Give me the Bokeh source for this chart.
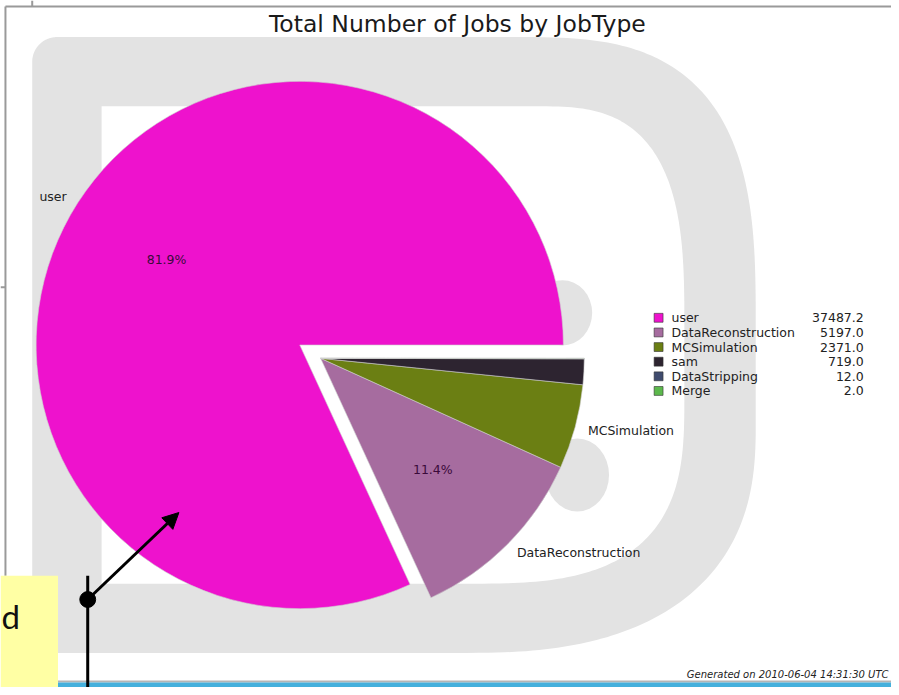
import numpy as np
from bokeh.plotting import figure
from bokeh.models import Range1d, Arrow, NormalHead
from bokeh.core.properties import value
from bokeh.embed import file_html
from bokeh.resources import INLINE

# ---- data ----
job_types = ["user", "DataReconstruction", "MCSimulation", "sam", "DataStripping", "Merge"]
job_counts = [37487.2, 5197.0, 2371.0, 719.0, 12.0, 2.0]
slice_colors = ["#ee12cd", "#a66c9f", "#6b7f13", "#2d2430", "#3f4b6e", "#5cb84c"]
explode_px = [25, 0, 0, 0, 0, 0]
title_text = "Total Number of Jobs by JobType"
footer_text = "Generated on 2010-06-04 14:31:30 UTC"

PAGE_W, PAGE_H = 899, 695


def Y(py):
    return PAGE_H - np.asarray(py, dtype=float)


p = figure(width=891, height=687, x_range=Range1d(0, PAGE_W), y_range=Range1d(0, PAGE_H),
           output_backend="svg", toolbar_location=None, title=None,
           x_axis_location=None, y_axis_location=None, min_border=0,
           background_fill_color="white", border_fill_color="white",
           outline_line_color=None)
p.grid.visible = False

# ---- watermark logo (decorative) ----
def superarc(cx, cy, a, b, n, t0, t1, num=80):
    t = np.linspace(np.radians(t0), np.radians(t1), num)
    c, s = np.cos(t), np.sin(t)
    x = cx + a * np.sign(c) * np.abs(c) ** (2.0 / n)
    y = cy + b * np.sign(s) * np.abs(s) ** (2.0 / n)
    return list(x), list(y)

ox, oy = [], []
for seg in [superarc(520, 330, 242, 293, 3, -90, 0),
            superarc(470, 430, 292, 230, 2.5, 0, 90),
            superarc(57, 635, 25, 25, 2, 90, 180),
            superarc(57, 62, 25, 25, 2, 180, 270)]:
    ox += seg[0]; oy += seg[1]
p.patch(ox, Y(oy), fill_color="#e3e3e3", line_color=None)

ix, iy = [102], [107]
for seg in [superarc(540, 330, 150, 223, 3, -90, 0),
            superarc(470, 400, 220, 190, 3, 0, 90)]:
    ix += seg[0]; iy += seg[1]
ix += [102]; iy += [590]
p.patch(ix, Y(iy), fill_color="white", line_color=None)

p.ellipse(x=[567, 582], y=Y([316, 480]), width=[60, 64], height=[66, 74],
          fill_color="#e3e3e3", line_color=None)

# ---- pie ----
vals = np.array(job_counts)
frac = vals / vals.sum()
ends = 2 * np.pi * np.cumsum(frac)
starts = ends - 2 * np.pi * frac
mid = (starts + ends) / 2
cx0, cy0 = 323.0, float(Y(362))
R = 266.0
ex = np.array(explode_px, dtype=float)
cxs = cx0 + ex * np.cos(mid)
cys = cy0 + ex * np.sin(mid)
p.wedge(x=cxs, y=cys, radius=R, start_angle=starts, end_angle=ends,
        fill_color=slice_colors, line_color="#cfcfcf", line_width=0.6)

font = value("DejaVu Sans")
lx_l, ly_l, lt_l, lx_r, ly_r, lt_r = [], [], [], [], [], []
px_, py_, pt_ = [], [], []
for i, name in enumerate(job_types):
    if frac[i] >= 0.05:
        x = cxs[i] + 1.05 * R * np.cos(mid[i])
        y = cys[i] + 1.05 * R * np.sin(mid[i])
        if np.cos(mid[i]) >= 0:
            lx_l.append(x); ly_l.append(y); lt_l.append(name)
        else:
            lx_r.append(x); ly_r.append(y); lt_r.append(name)
    if frac[i] >= 0.10:
        px_.append(cxs[i] + 0.6 * R * np.cos(mid[i]))
        py_.append(cys[i] + 0.6 * R * np.sin(mid[i]))
        pt_.append(f"{100 * frac[i]:.1f}%")

p.text(x=lx_l, y=ly_l, text=lt_l, text_font=font, text_font_size=value("12.5px"),
       text_align="left", text_baseline="middle", text_color="#222222")
p.text(x=lx_r, y=ly_r, text=lt_r, text_font=font, text_font_size=value("12.5px"),
       text_align="right", text_baseline="middle", text_color="#222222")
p.text(x=px_, y=py_, text=pt_, text_font=font, text_font_size=value("12.5px"),
       text_align="center", text_baseline="middle", text_color="#3a0a3a")

# ---- legend ----
rows_py = 321 + 14.8 * np.arange(len(job_types))
p.rect(x=[664] * len(job_types), y=Y(rows_py), width=9, height=9,
       fill_color=slice_colors, line_color="#333333", line_width=0.6)
p.text(x=[677] * len(job_types), y=Y(rows_py), text=job_types, text_font=font,
       text_font_size=value("12.5px"), text_align="left", text_baseline="middle",
       text_color="#222222")
p.text(x=[871] * len(job_types), y=Y(rows_py), text=[f"{v:.1f}" for v in job_counts],
       text_font=font, text_font_size=value("12.5px"), text_align="right",
       text_baseline="middle", text_color="#222222")

# ---- title / footer ----
p.text(x=[461], y=Y([24]), text=[title_text], text_font=font, text_font_size=value("23.5px"),
       text_align="center", text_baseline="middle", text_color="#1a1a1a")
p.text(x=[896], y=Y([682]), text=[footer_text], text_font=font, text_font_size=value("10px"),
       text_font_style="italic", text_align="right", text_baseline="middle",
       text_color="#222222")

# ---- slide decorations ----
p.segment(x0=[5, 5, 32, 0], y0=Y([6, 6, 0, 290]), x1=[899, 5, 32, 5], y1=Y([6, 582, 6, 290]),
          line_color="#9a9a9a", line_width=2)
p.quad(left=[58], right=[899], top=Y([688]), bottom=Y([690]), fill_color="#b5b5b5", line_color=None)
p.quad(left=[58], right=[899], top=Y([690]), bottom=Y([695]), fill_color="#45b0dc", line_color=None)
p.quad(left=[0], right=[58], top=Y([582]), bottom=Y([695]), fill_color="#ffffa4", line_color=None)
p.text(x=[1], y=Y([623]), text=["d"], text_font=value("Lato"), text_font_size=value("33px"),
       text_align="left", text_baseline="alphabetic", text_color="#111111")
p.segment(x0=[88], y0=Y([582]), x1=[88], y1=Y([695]), line_color="black", line_width=3)
p.circle(x=[88], y=Y([606]), radius=8, fill_color="black", line_color="black")
p.add_layout(Arrow(end=NormalHead(size=16, fill_color="black", line_color="black"),
                   x_start=88, y_start=float(Y(606)), x_end=180, y_end=float(Y(518)),
                   line_width=3, line_color="black"))

open("out.html", "w").write(file_html(p, INLINE))
